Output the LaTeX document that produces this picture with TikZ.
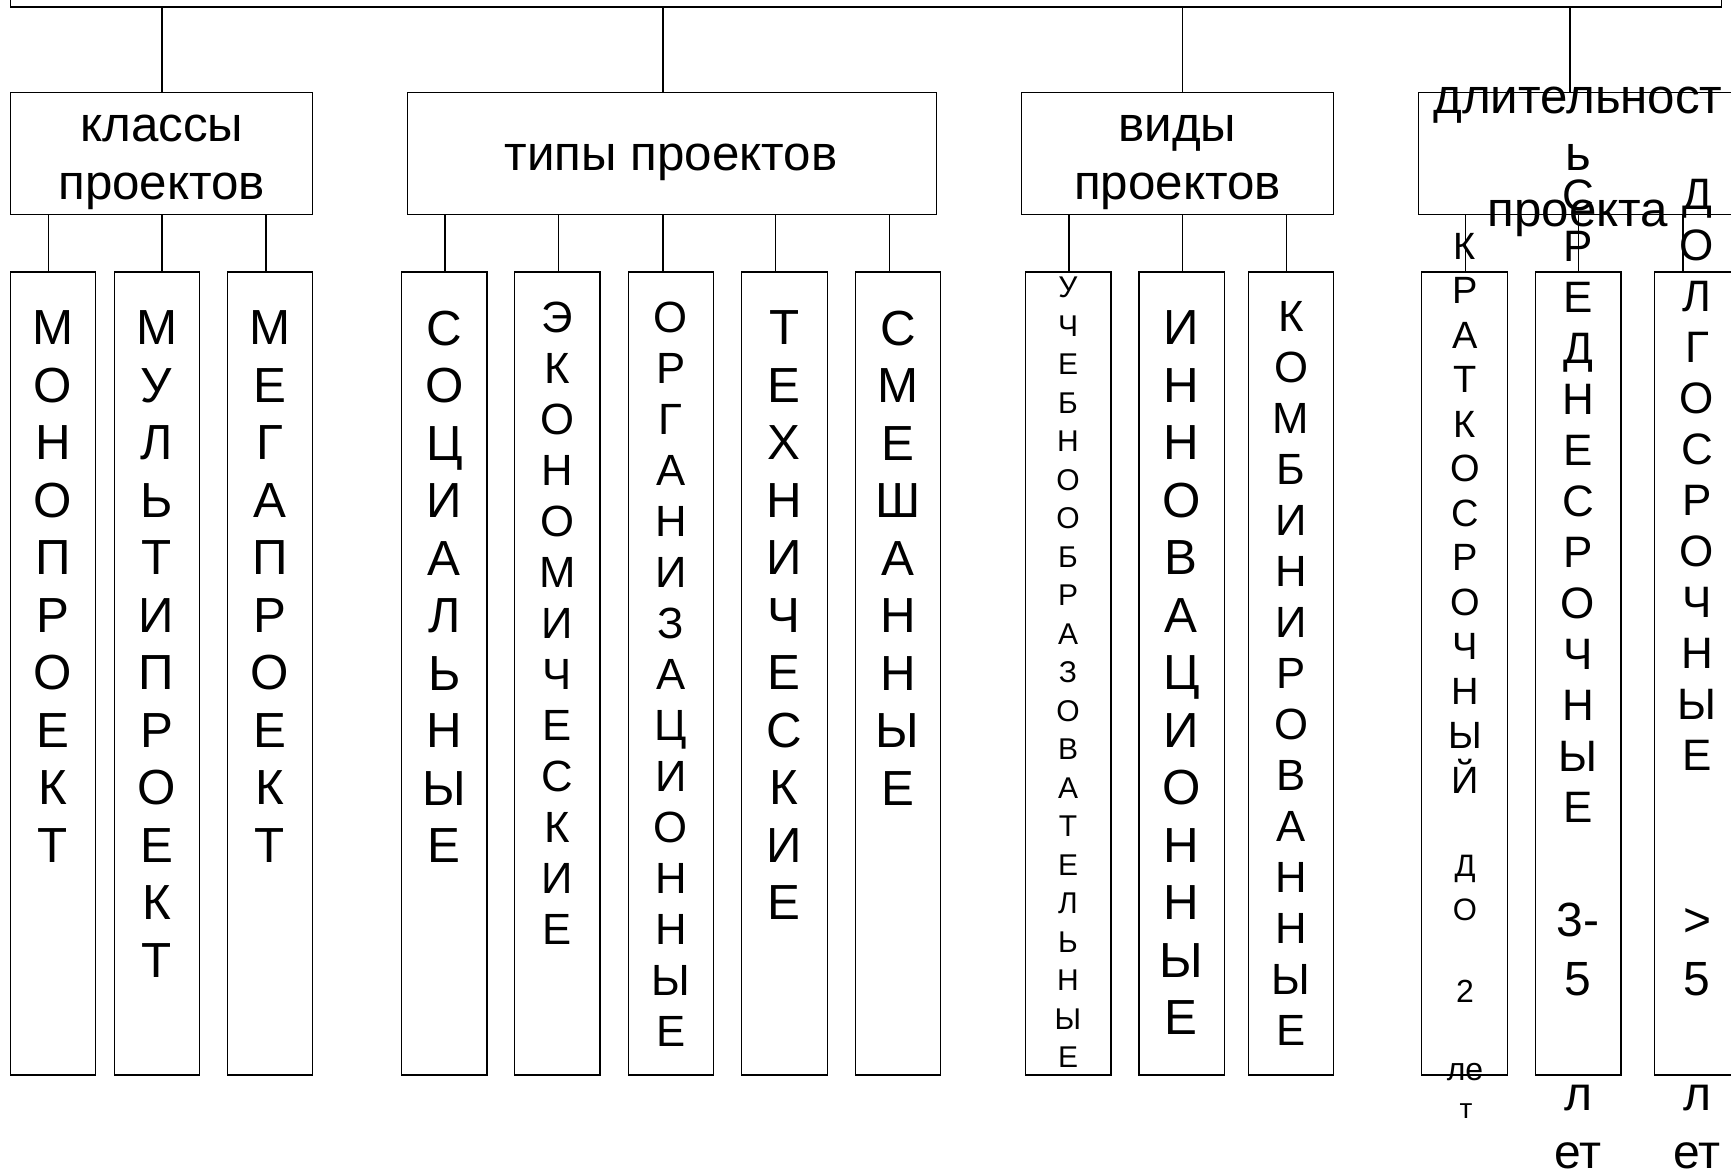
\documentclass[tikz,border=0pt]{standalone}
\usepackage{fontspec}
\setmainfont{Liberation Sans}
\newcommand{\pbox}[5]{%
  \pgfmathsetmacro{\pbw}{#4-#2}%
  \pgfmathsetmacro{\pbh}{#5-#3}%
  \pgfmathsetmacro{\pbx}{(#2+#4)/2}%
  \pgfmathsetmacro{\pby}{(#3+#5)/2}%
  \node[frame, minimum width=\pbw pt, minimum height=\pbh pt] (#1) at (\pbx,\pby) {};}
\begin{document}
\begin{tikzpicture}[x=1pt,y=-1pt,
  frame/.style={draw=black, line width=1.3pt, inner sep=0pt, outer sep=0pt},
  conn/.style={draw=black, line width=1.3pt},
  hdr/.style={inner sep=0pt, anchor=base, font=\fontsize{49.3}{57.5}\selectfont},
  col/.style={inner sep=0pt, anchor=north, align=center},
  big/.style={font=\fontsize{49.3}{57.5}\selectfont},
  mid/.style={font=\fontsize{43.7}{51}\selectfont},
  piece/.style={inner sep=0pt, anchor=base}
]
\useasboundingbox (0,0) rectangle (1731,1171);
\fill[white] (0,0) rectangle (1731,1171);

% top box (mostly above the page)
\pbox{top}{10.7}{-40}{1721.7}{7}

% level 2 boxes
\pbox{kl}{10.7}{92.5}{312.7}{214.5}
\pbox{tp}{407.6}{92.5}{936.5}{214.5}
\pbox{vd}{1021.3}{92.5}{1333.3}{214.5}
\pbox{dl}{1418.5}{92.5}{1737}{214.5}

% level 3 boxes
\pbox{k1}{10.7}{272}{95.7}{1075}
\pbox{k2}{114.3}{272}{199.7}{1075}
\pbox{k3}{227.7}{272}{312.7}{1075}
\pbox{t1}{401.7}{272}{487}{1075}
\pbox{t2}{514.7}{272}{600.1}{1075}
\pbox{t3}{628.2}{272}{713.4}{1075}
\pbox{t4}{741.5}{272}{827.2}{1075}
\pbox{t5}{855.2}{272}{940.5}{1075}
\pbox{v1}{1025.3}{272}{1111}{1075}
\pbox{v2}{1139}{272}{1224.3}{1075}
\pbox{v3}{1248.3}{272}{1333.3}{1075}
\pbox{d1}{1421.7}{272}{1507.8}{1075}
\pbox{d2}{1535.3}{272}{1621}{1075}
\pbox{d3}{1654.3}{272}{1740}{1075}

% connector x positions
\coordinate (xkl) at (162,0);
\coordinate (xtp) at (663.1,0);
\coordinate (xvd) at (1182.3,0);
\coordinate (xdl) at (1570,0);
\coordinate (xk1) at (48.7,0);
\coordinate (xk2) at (162,0);
\coordinate (xk3) at (266,0);
\coordinate (xt1) at (445.1,0);
\coordinate (xt2) at (558.7,0);
\coordinate (xt3) at (663.1,0);
\coordinate (xt4) at (775.7,0);
\coordinate (xt5) at (889.3,0);
\coordinate (xv1) at (1069,0);
\coordinate (xv2) at (1182.3,0);
\coordinate (xv3) at (1286.3,0);
\coordinate (xd1) at (1465.7,0);
\coordinate (xd2) at (1578.7,0);
\coordinate (xd3) at (1683,0);

% connectors
\foreach \p in {kl,tp,vd,dl}
  \draw[conn] (top.south -| x\p) -- (\p.north -| x\p);
\foreach \c in {k1,k2,k3}
  \draw[conn] (kl.south -| x\c) -- (\c.north -| x\c);
\foreach \c in {t1,t2,t3,t4,t5}
  \draw[conn] (tp.south -| x\c) -- (\c.north -| x\c);
\foreach \c in {v1,v2,v3}
  \draw[conn] (vd.south -| x\c) -- (\c.north -| x\c);
\foreach \c in {d1,d2,d3}
  \draw[conn] (dl.south -| x\c) -- (\c.north -| x\c);

% level 2 labels
\node[hdr] (klA) at (161.7,141.7) {классы};
\node[hdr] (klB) at (161.7,199.3) {проектов};
\node[hdr] (tpA) at (671,170.6) {типы проектов};
\node[hdr] (vdA) at (1177.4,141.7) {виды};
\node[hdr] (vdB) at (1177.4,199.3) {проектов};
\node[hdr] (dlA) at (1578,113.3) {длительност};
\node[hdr] (dlB) at (1578,170) {ь};
\node[hdr] (dlC) at (1578,226.7) {проекта};

% level 3 texts
\node[col,big] (k1T) at (53,310.8) {М\\О\\Н\\О\\П\\Р\\О\\Е\\К\\Т};
\node[col,big] (k2T) at (156.6,310.8) {М\\У\\Л\\Ь\\Т\\И\\П\\Р\\О\\Е\\К\\Т};
\node[col,big] (k3T) at (269.8,310.8) {М\\Е\\Г\\А\\П\\Р\\О\\Е\\К\\Т};
\node[col,big] (t1T) at (444.3,310.8) {С\\О\\Ц\\И\\А\\Л\\Ь\\Н\\Ы\\Е};
\node[col,mid] (t2T) at (557.5,301.4) {Э\\К\\О\\Н\\О\\М\\И\\Ч\\Е\\С\\К\\И\\Е};
\node[col,mid] (t3T) at (670.8,301.4) {О\\Р\\Г\\А\\Н\\И\\З\\А\\Ц\\И\\О\\Н\\Н\\Ы\\Е};
\node[col,big] (t4T) at (784.3,310.8) {Т\\Е\\Х\\Н\\И\\Ч\\Е\\С\\К\\И\\Е};
\node[col,big] (t5T) at (897.8,310.8) {С\\М\\Е\\Ш\\А\\Н\\Н\\Ы\\Е};
\node[col,font=\fontsize{30}{38.5}\selectfont] (v1T) at (1068,277) {У\\Ч\\Е\\Б\\Н\\О\\О\\Б\\Р\\А\\З\\О\\В\\А\\Т\\Е\\Л\\Ь\\Н\\Ы\\Е};
\node[col,big] (v2T) at (1181.4,310.8) {И\\Н\\Н\\О\\В\\А\\Ц\\И\\О\\Н\\Н\\Ы\\Е};
\node[col,mid] (v3T) at (1291,301.4) {К\\О\\М\\Б\\И\\Н\\И\\Р\\О\\В\\А\\Н\\Н\\Ы\\Е};

% duration columns
\node[col,font=\fontsize{38}{44.5}\selectfont] (d1T) at (1465,232.7) {К\\Р\\А\\Т\\К\\О\\С\\Р\\О\\Ч\\Н\\Ы\\Й};
\node[piece,font=\fontsize{31}{36}\selectfont] (d1a) at (1465,876.7) {Д};
\node[piece,font=\fontsize{31}{36}\selectfont] (d1b) at (1465,920) {О};
\node[piece,font=\fontsize{32}{38}\selectfont] (d1c) at (1465,1002.7) {2};
\node[piece,font=\fontsize{32}{38}\selectfont] (d1d) at (1465,1080) {ле};
\node[piece,font=\fontsize{28}{34}\selectfont] (d1e) at (1466,1118.3) {т};

\node[col,font=\fontsize{44}{51}\selectfont] (d2T) at (1578,179.2) {С\\Р\\Е\\Д\\Н\\Е\\С\\Р\\О\\Ч\\Н\\Ы\\Е};
\node[piece,font=\fontsize{48}{58}\selectfont] (d2a) at (1578,936.6) {3-};
\node[piece,font=\fontsize{48}{58}\selectfont] (d2b) at (1578,995) {5};
\node[piece,font=\fontsize{48}{58}\selectfont] (d2c) at (1578,1110) {л};
\node[piece,font=\fontsize{48}{58}\selectfont] (d2d) at (1578,1168.3) {ет};

\node[col,font=\fontsize{44}{51}\selectfont] (d3T) at (1697,179.2) {Д\\О\\Л\\Г\\О\\С\\Р\\О\\Ч\\Н\\Ы\\Е};
\node[piece,font=\fontsize{48}{58}\selectfont] (d3a) at (1697,936.6) {>};
\node[piece,font=\fontsize{48}{58}\selectfont] (d3b) at (1697,995) {5};
\node[piece,font=\fontsize{48}{58}\selectfont] (d3c) at (1697,1110) {л};
\node[piece,font=\fontsize{48}{58}\selectfont] (d3d) at (1697,1168.3) {ет};
\end{tikzpicture}
\end{document}
